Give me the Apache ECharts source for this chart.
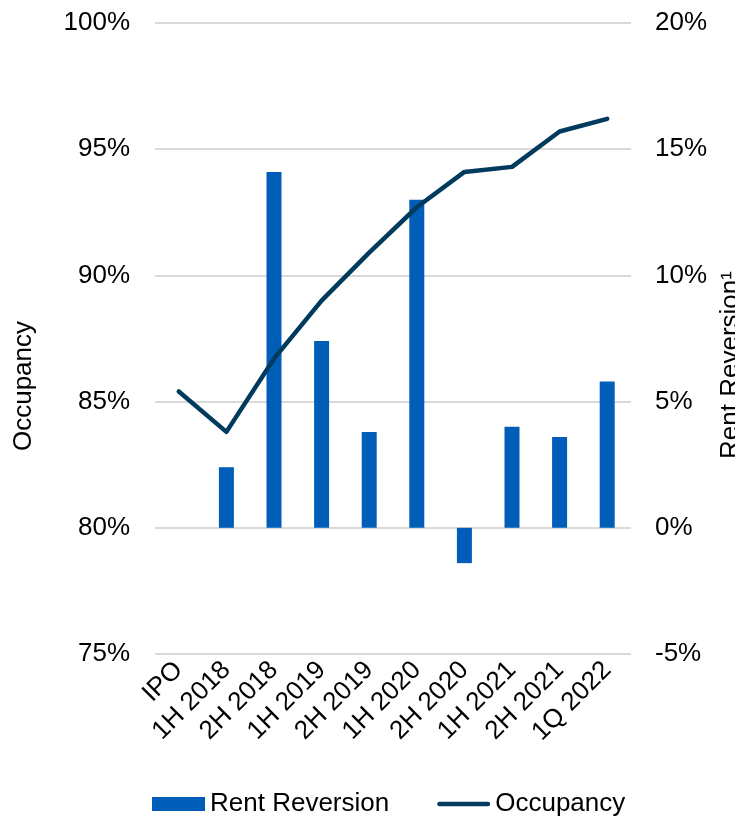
<!DOCTYPE html>
<html>
<head>
<meta charset="utf-8">
<script src="https://cdn.jsdelivr.net/npm/echarts@6/dist/echarts.min.js"></script>
<style>html,body{margin:0;padding:0;background:#fff;}#c{width:735px;height:820px;}</style>
</head>
<body>
<div id="c"></div>
<script>
const categories = ['IPO','1H 2018','2H 2018','1H 2019','2H 2019','1H 2020','2H 2020','1H 2021','2H 2021','1Q 2022'];
const rentReversion = [null, 2.4, 14.1, 7.4, 3.8, 13.0, -1.4, 4.0, 3.6, 5.8];
const occupancy = [85.4, 83.8, 86.7, 89.0, 90.9, 92.7, 94.1, 94.3, 95.7, 96.2];
const leftTicks = {min: 75, max: 100, interval: 5};
const rightTicks = {min: -5, max: 20, interval: 5};

const FONT = 'Liberation Sans, Arial, sans-serif';
const chart = echarts.init(document.getElementById('c'), null, {renderer: 'canvas'});
chart.setOption({
  animation: false,
  backgroundColor: '#ffffff',
  grid: {left: 155, right: 104, top: 23, bottom: 166, containLabel: false},
  legend: {
    left: 152, top: 791, padding: 0,
    itemWidth: 53, itemHeight: 14, itemGap: 48,
    textStyle: {fontSize: 26, fontFamily: FONT, color: '#000'},
    data: [
      {name: 'Rent Reversion', icon: 'rect'},
      {name: 'Occupancy', icon: 'path://M2.5,0 H53.5 A2.5,2.5 0 0 1 53.5,5 H2.5 A2.5,2.5 0 0 1 2.5,0 Z', itemStyle: {color: '#003A5D'}}
    ]
  },
  xAxis: {
    type: 'category', data: categories, boundaryGap: true,
    axisLine: {show: false}, axisTick: {show: false},
    axisLabel: {rotate: 45, fontSize: 26, fontFamily: FONT, color: '#000', margin: 12, interval: 0}
  },
  yAxis: [
    {
      type: 'value', min: leftTicks.min, max: leftTicks.max, interval: leftTicks.interval,
      axisLine: {show: false}, axisTick: {show: false},
      axisLabel: {formatter: '{value}%', fontSize: 26, fontFamily: FONT, color: '#000', margin: 25},
      splitLine: {show: true, lineStyle: {color: '#d9d9d9', width: 2}}
    },
    {
      type: 'value', min: rightTicks.min, max: rightTicks.max, interval: rightTicks.interval,
      axisLine: {show: false}, axisTick: {show: false},
      axisLabel: {formatter: '{value}%', fontSize: 26, fontFamily: FONT, color: '#000', margin: 24},
      splitLine: {show: false}
    }
  ],
  graphic: [
    {type: 'text', x: 24, y: 386, rotation: Math.PI / 2,
      style: {text: 'Occupancy', fontSize: 26, fontFamily: FONT, fill: '#000', align: 'center', verticalAlign: 'middle'}},
    {type: 'text', x: 731, y: 365, rotation: Math.PI / 2,
      style: {text: 'Rent Reversion¹', fontSize: 26, fontFamily: FONT, fill: '#000', align: 'center', verticalAlign: 'middle'}}
  ],
  series: [
    {
      name: 'Rent Reversion', type: 'bar', yAxisIndex: 1, data: rentReversion,
      barWidth: 15, itemStyle: {color: '#005EB8'}
    },
    {
      name: 'Occupancy', type: 'line', yAxisIndex: 0, data: occupancy,
      symbol: 'none', lineStyle: {color: '#003A5D', width: 4.5, cap: 'round', join: 'round'},
      itemStyle: {color: '#003A5D'}
    }
  ]
});
</script>
</body>
</html>
